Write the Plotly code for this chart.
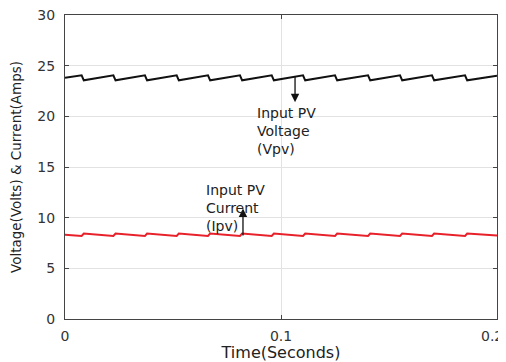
import plotly.graph_objects as go

# Vertex times (s) of the periodic switching ripple
t_vpv = [0.0, 0.0077, 0.0087, 0.0224, 0.0234, 0.0370, 0.0380, 0.0517, 0.0527,
         0.0662, 0.0672, 0.0810, 0.0820, 0.0957, 0.0967, 0.1102, 0.1112,
         0.1250, 0.1260, 0.1403, 0.1413, 0.1551, 0.1561, 0.1699, 0.1709,
         0.1852, 0.1862, 0.2000]
vpv = [23.80, 24.05, 23.55, 24.05, 23.55, 24.05, 23.55, 24.05, 23.55,
       24.05, 23.55, 24.05, 23.55, 24.05, 23.55, 24.05, 23.55,
       24.05, 23.55, 24.05, 23.55, 24.05, 23.55, 24.05, 23.55,
       24.05, 23.55, 24.00]

t_ipv = [0.0, 0.0077, 0.0087, 0.0224, 0.0234, 0.0370, 0.0380, 0.0517, 0.0527,
         0.0662, 0.0672, 0.0810, 0.0820, 0.0957, 0.0967, 0.1102, 0.1112,
         0.1250, 0.1260, 0.1403, 0.1413, 0.1551, 0.1561, 0.1699, 0.1709,
         0.1852, 0.1862, 0.2000]
ipv = [8.32, 8.20, 8.43, 8.20, 8.43, 8.20, 8.43, 8.20, 8.43,
       8.20, 8.43, 8.20, 8.43, 8.20, 8.43, 8.20, 8.43,
       8.20, 8.43, 8.20, 8.43, 8.20, 8.43, 8.20, 8.43,
       8.20, 8.43, 8.25]

x_ticks = [0, 0.1, 0.2]
x_tick_labels = ["0", "0.1", "0.2"]
y_ticks = [0, 5, 10, 15, 20, 25, 30]

FONT = "DejaVu Sans, Verdana, sans-serif"
TICKFONT = dict(family=FONT, size=14, color="#333333")

fig = go.Figure()
fig.add_trace(go.Scatter(x=t_vpv, y=vpv, mode="lines",
                         line=dict(color="#111111", width=2), showlegend=False))
fig.add_trace(go.Scatter(x=t_ipv, y=ipv, mode="lines",
                         line=dict(color="#e8202a", width=2), showlegend=False))

# Arrows
fig.add_annotation(x=0.1065, y=21.4, ax=0.1065, ay=24.05, xref="x", yref="y",
                   axref="x", ayref="y", text="", showarrow=True,
                   arrowhead=2, arrowsize=1.3, arrowwidth=1.3, arrowcolor="#111111")
fig.add_annotation(x=0.0824, y=10.9, ax=0.0824, ay=8.1, xref="x", yref="y",
                   axref="x", ayref="y", text="", showarrow=True,
                   arrowhead=2, arrowsize=1.3, arrowwidth=1.3, arrowcolor="#111111")
# Labels
fig.add_annotation(x=0.0878, y=21.3, xref="x", yref="y", xanchor="left", yanchor="top",
                   text="Input PV<br>Voltage<br>(Vpv)", showarrow=False, align="left",
                   font=dict(family=FONT, size=14, color="#222222"))
fig.add_annotation(x=0.0645, y=13.7, xref="x", yref="y", xanchor="left", yanchor="top",
                   text="Input PV<br>Current<br>(Ipv)", showarrow=False, align="left",
                   font=dict(family=FONT, size=14, color="#222222"))

# last x tick label placed so that it stays inside the window
fig.add_annotation(x=x_ticks[-1], y=0, xref="x", yref="paper", xanchor="right",
                   yanchor="top", xshift=8, yshift=-7, text=x_tick_labels[-1],
                   showarrow=False, font=TICKFONT)

axis_common = dict(showline=True, linecolor="#444444", linewidth=1, mirror="ticks",
                   ticks="inside", ticklen=4, tickcolor="#444444",
                   showgrid=True, gridcolor="#e2e2e2", gridwidth=1, zeroline=False,
                   automargin=False, ticklabeloverflow="allow",
                   tickfont=TICKFONT)

fig.update_xaxes(range=[0, 0.2], tickvals=x_ticks,
                 ticktext=x_tick_labels[:-1] + [""],
                 ticklabelstandoff=4,
                 title=dict(text="Time(Seconds)", standoff=2,
                            font=dict(family=FONT, size=16, color="#222222")),
                 **axis_common)
fig.update_yaxes(range=[0, 30], tickvals=y_ticks, ticklabelstandoff=6,
                 title=dict(text="Voltage(Volts) & Current(Amps)", standoff=14,
                            font=dict(family=FONT, size=13.5, color="#222222")),
                 **axis_common)

# page body has an 8px margin, so the figure is sized to fit the 506x362 window
fig.update_layout(width=498, height=354, plot_bgcolor="white", paper_bgcolor="white",
                  margin=dict(l=57, r=9, t=7, b=43))

fig.write_html("out.html")
